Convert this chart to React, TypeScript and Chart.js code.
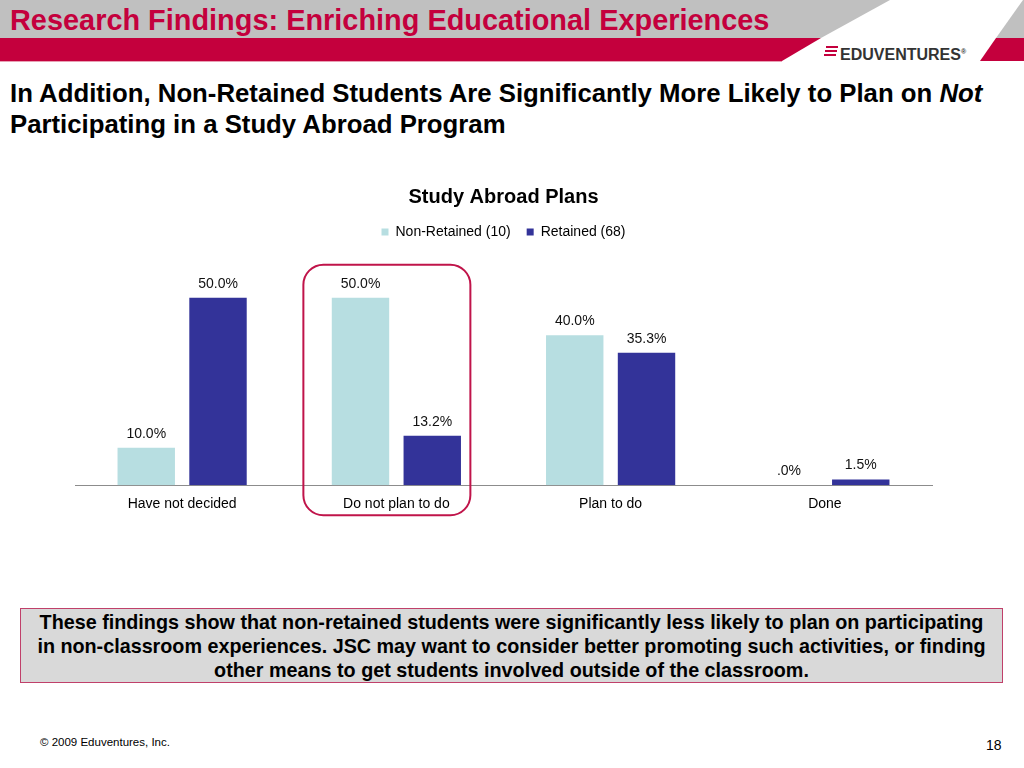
import React, { useEffect, useRef } from "react";
import { Chart, registerables } from "chart.js";

Chart.register(...registerables);

const categories = ["Have not decided", "Do not plan to do", "Plan to do", "Done"];
const nonRetained = [10.0, 50.0, 40.0, 0.0];
const retained = [50.0, 13.2, 35.3, 1.5];
const seriesNames = ["Non-Retained (10)", "Retained (68)"];
const highlightIndex = 1;

const FONT = "'Liberation Sans', Arial, Helvetica, sans-serif";
const RED = "#C4003D";

const fmt = (v: number) => (v === 0 ? ".0%" : v.toFixed(1) + "%");

const labelPlugin = {
  id: "valueLabels",
  afterDatasetsDraw(chart: any) {
    const ctx = chart.ctx;
    ctx.save();
    ctx.font = `14px ${FONT}`;
    ctx.fillStyle = "#111";
    ctx.textAlign = "center";
    ctx.textBaseline = "middle";
    chart.data.datasets.forEach((ds: any, di: number) => {
      const meta = chart.getDatasetMeta(di);
      meta.data.forEach((bar: any, i: number) => {
        ctx.fillText(fmt(ds.data[i]), bar.x, bar.y - 14);
      });
    });
    ctx.restore();
  },
};

const highlightPlugin = {
  id: "highlightBox",
  afterDraw(chart: any) {
    const ctx = chart.ctx;
    const xs = chart.scales.x;
    const ys = chart.scales.y;
    const cx = xs.getPixelForValue(highlightIndex);
    const left = cx - 93;
    const right = cx + 74;
    const top = ys.getPixelForValue(50) - 33;
    const bottom = chart.chartArea.bottom + 30;
    const r = 20;
    ctx.save();
    ctx.strokeStyle = "#C0144A";
    ctx.lineWidth = 2;
    ctx.beginPath();
    ctx.moveTo(left + r, top);
    ctx.lineTo(right - r, top);
    ctx.arcTo(right, top, right, top + r, r);
    ctx.lineTo(right, bottom - r);
    ctx.arcTo(right, bottom, right - r, bottom, r);
    ctx.lineTo(left + r, bottom);
    ctx.arcTo(left, bottom, left, bottom - r, r);
    ctx.lineTo(left, top + r);
    ctx.arcTo(left, top, left + r, top, r);
    ctx.closePath();
    ctx.stroke();
    ctx.restore();
  },
};

function BarChart() {
  const ref = useRef<HTMLCanvasElement | null>(null);
  useEffect(() => {
    if (!ref.current) return;
    const chart = new Chart(ref.current, {
      type: "bar",
      data: {
        labels: categories,
        datasets: [
          {
            label: seriesNames[0],
            data: nonRetained,
            backgroundColor: "#B7DEE1",
            categoryPercentage: 0.67,
            barPercentage: 0.8,
          },
          {
            label: seriesNames[1],
            data: retained,
            backgroundColor: "#333399",
            categoryPercentage: 0.67,
            barPercentage: 0.8,
          },
        ],
      },
      options: {
        animation: false,
        responsive: false,
        maintainAspectRatio: false,
        layout: { padding: { left: 75, right: 92, top: 0, bottom: 6 } },
        plugins: {
          title: {
            display: true,
            text: "Study Abroad Plans",
            color: "#000",
            font: { family: FONT, size: 20, weight: "bold" },
            padding: { top: 15, bottom: 0 },
          },
          legend: {
            display: true,
            position: "top",
            labels: {
              color: "#000",
              font: { family: FONT, size: 14 },
              boxWidth: 7,
              boxHeight: 7,
              padding: 16,
            },
          },
          tooltip: { enabled: false },
        },
        scales: {
          x: {
            grid: { display: true, drawOnChartArea: false, drawTicks: false },
            border: { display: true, color: "#8C8C8C", width: 1 },
            ticks: { color: "#000", font: { family: FONT, size: 14 }, padding: 11 },
          },
          y: {
            display: false,
            min: 0,
            max: 63,
          },
        },
      },
      plugins: [labelPlugin, highlightPlugin],
    });
    return () => chart.destroy();
  }, []);
  return (
    <canvas
      ref={ref}
      width={1024}
      height={360}
      style={{ position: "absolute", left: 0, top: 170, width: 1024, height: 360 }}
    />
  );
}

export default function App() {
  useEffect(() => {
    document.body.style.margin = "0";
  }, []);
  return (
    <div
      style={{
        position: "fixed",
        left: 0,
        top: 0,
        width: 1024,
        height: 768,
        background: "#fff",
        overflow: "hidden",
        fontFamily: FONT,
      }}
    >
      <svg width={1024} height={70} style={{ position: "absolute", left: 0, top: 0 }}>
        <polygon points="0,0 890,0 821,38 0,38" fill="#C0C0C0" />
        <polygon points="0,38 821,38 782,61 0,61" fill={RED} />
        <polygon points="1023,0 1024,0 1024,38 996,38" fill="#C0C0C0" />
        <polygon points="996,38 1024,38 1024,61 980,61" fill={RED} />
        <line x1={0} y1={61.5} x2={782} y2={61.5} stroke="#E8A0B4" strokeWidth={1} />
        <rect x={826} y={46} width={12} height={2} fill={RED} />
        <rect x={825} y={50} width={12} height={2} fill={RED} />
        <rect x={824} y={54} width={12} height={2} fill={RED} />
      </svg>
      <div
        style={{
          position: "absolute",
          left: 10,
          top: 3,
          fontSize: 28.9,
          fontWeight: "bold",
          color: RED,
          lineHeight: "34px",
          whiteSpace: "nowrap",
        }}
      >
        Research Findings: Enriching Educational Experiences
      </div>
      <div
        style={{
          position: "absolute",
          left: 840,
          top: 42,
          fontSize: 16,
          fontWeight: "bold",
          color: "#333",
          lineHeight: "19px",
          whiteSpace: "nowrap",
        }}
      >
        EDUVENTURES<sup style={{ fontSize: 7 }}>®</sup>
      </div>
      <div
        style={{
          position: "absolute",
          left: 10,
          top: 78,
          fontSize: 25.75,
          fontWeight: "bold",
          color: "#000",
          lineHeight: "31px",
          whiteSpace: "nowrap",
        }}
      >
        In Addition, Non-Retained Students Are Significantly More Likely to Plan on <i>Not</i>
        <br />
        Participating in a Study Abroad Program
      </div>
      <BarChart />
      <div
        style={{
          position: "absolute",
          left: 20,
          top: 608,
          width: 981,
          height: 72,
          background: "#D9D9D9",
          border: "1px solid #C0406A",
          boxSizing: "content-box",
          fontSize: 19.75,
          fontWeight: "bold",
          color: "#000",
          lineHeight: "24px",
          textAlign: "center",
          paddingTop: 1,
          whiteSpace: "nowrap",
        }}
      >
        These findings show that non-retained students were significantly less likely to plan on participating
        <br />
        in non-classroom experiences. JSC may want to consider better promoting such activities, or finding
        <br />
        other means to get students involved outside of the classroom.
      </div>
      <div style={{ position: "absolute", left: 40, top: 736, fontSize: 11.5, color: "#000", whiteSpace: "nowrap" }}>
        © 2009 Eduventures, Inc.
      </div>
      <div style={{ position: "absolute", left: 986, top: 737, fontSize: 14, color: "#000" }}>18</div>
    </div>
  );
}
